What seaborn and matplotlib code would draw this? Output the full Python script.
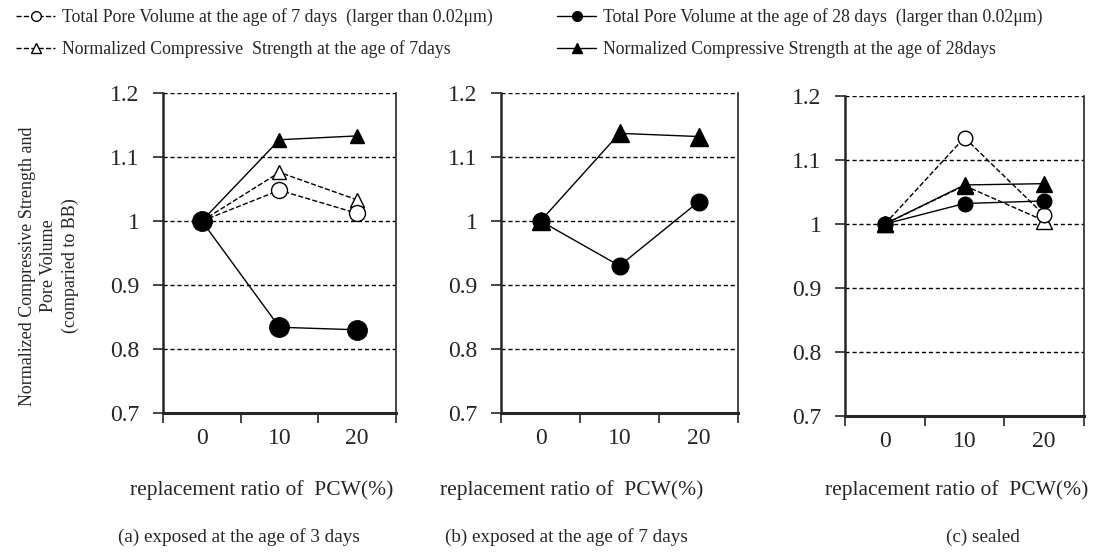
import seaborn as sns
import matplotlib.pyplot as plt
from matplotlib.lines import Line2D

# replacement ratio of PCW (%)
ratio = ["0", "10", "20"]

# (a) exposed at the age of 3 days
a_pore7 = [1.0, 1.048, 1.012]
a_pore28 = [1.0, 0.834, 0.830]
a_str7 = [1.0, 1.076, 1.033]
a_str28 = [1.0, 1.127, 1.133]

# (b) exposed at the age of 7 days
b_pore28 = [1.0, 0.930, 1.030]
b_str28 = [1.0, 1.137, 1.132]

# (c) sealed
c_pore7 = [1.0, 1.135, 1.014]
c_pore28 = [1.0, 1.032, 1.036]
c_str7 = [1.0, 1.060, 1.005]
c_str28 = [1.0, 1.061, 1.063]

yticks = [0.7, 0.8, 0.9, 1.0, 1.1, 1.2]
ytick_labels = ["0.7", "0.8", "0.9", "1", "1.1", "1.2"]

labels = {
    "pore7": "Total Pore Volume at the age of 7 days  (larger than 0.02\u03bcm)",
    "str7": "Normalized Compressive  Strength at the age of 7days",
    "pore28": "Total Pore Volume at the age of 28 days  (larger than 0.02\u03bcm)",
    "str28": "Normalized Compressive Strength at the age of 28days",
}
styles = {
    "pore7": dict(marker="o", ls="--", mfc="white"),
    "str7": dict(marker="^", ls="--", mfc="white"),
    "pore28": dict(marker="o", ls="-", mfc="black"),
    "str28": dict(marker="^", ls="-", mfc="black"),
}

sns.set_style("ticks")
plt.rcParams["font.family"] = ["Liberation Serif", "DejaVu Serif"]

fig = plt.figure(figsize=(11.11, 5.52), dpi=100)
boxes = [
    [0.1467, 0.2518, 0.2097, 0.5797],
    [0.4510, 0.2518, 0.2133, 0.5797],
    [0.7606, 0.2464, 0.2151, 0.5797],
]
panels = [
    {"str7": a_str7, "pore7": a_pore7, "str28": a_str28, "pore28": a_pore28},
    {"pore28": b_pore28, "str28": b_str28},
    {"str7": c_str7, "pore7": c_pore7, "str28": c_str28, "pore28": c_pore28},
]
# marker sizes per panel
msizes = [
    {"pore7": 11.5, "pore28": 14, "str7": 10.5, "str28": 10.5},
    {"pore7": 12, "pore28": 12, "str7": 13.5, "str28": 13.5},
    {"pore7": 10.5, "pore28": 10.5, "str7": 11, "str28": 11},
]
titles = ["(a) exposed at the age of 3 days",
          "(b) exposed at the age of 7 days",
          "(c) sealed"]
title_x = [239, 566, 983]
xlabel_x = [262, 572, 957]

xpos = list(range(len(ratio)))
for i, (box, series, title) in enumerate(zip(boxes, panels, titles)):
    ax = fig.add_axes(box)
    for key, vals in series.items():
        st = styles[key]
        sns.lineplot(x=xpos, y=vals, ax=ax, color="black", lw=1,
                     linestyle=st["ls"], marker=st["marker"],
                     markersize=msizes[i][key], markerfacecolor=st["mfc"],
                     markeredgecolor="black", markeredgewidth=1,
                     zorder=3, clip_on=False)
    ax.set_xlim(-0.5, len(ratio) - 0.5)
    ax.set_ylim(0.7, 1.2)
    ax.set_xticks([-0.5, 0.5, 1.5, 2.5])
    ax.set_xticklabels([])
    ax.set_xticks(xpos, minor=True)
    ax.set_xticklabels(ratio, minor=True)
    ax.tick_params(axis="x", which="minor", length=0, pad=11, labelsize=17)
    ax.tick_params(axis="x", which="major", length=7, width=1.2, direction="out")
    ax.set_yticks(yticks)
    ax.set_yticklabels(ytick_labels)
    ax.tick_params(axis="y", length=7, width=1.2, direction="out", labelsize=17, pad=10)
    for y in yticks[1:]:
        ax.axhline(y, color="black", ls=(0, (3, 2)), lw=1, zorder=1)
    ax.spines["top"].set_visible(False)
    ax.spines["left"].set_linewidth(1.8)
    ax.spines["bottom"].set_linewidth(2.2)
    ax.spines["right"].set_linewidth(1.2)
    ax.set_xlabel("replacement ratio of  PCW(%)", fontsize=15.5)
    ax.xaxis.set_label_coords((xlabel_x[i] / 1111 - box[0]) / box[2],
                              (1 - 490 / 552 - box[1]) / box[3])
    ax.xaxis.label.set_va("center")
    fig.text(title_x[i] / 1111, 1 - 537 / 552, title, ha="center", va="center", fontsize=13.8)
    if i == 0:
        ax.set_ylabel("Normalized Compressive Strength and\nPore Volume\n(comparied to BB)",
                      fontsize=13, linespacing=1.3)
        ax.yaxis.set_label_coords((49 / 1111 - box[0]) / box[2], 0.46)
        ax.yaxis.label.set_va("center")

order = ["pore7", "str7", "pore28", "str28"]
handles = [Line2D([], [], color="black", lw=1, ls=styles[k]["ls"], marker=styles[k]["marker"],
                  markersize=7, markerfacecolor=styles[k]["mfc"], markeredgecolor="black")
           for k in order]
fig.legend(handles, [labels[k] for k in order], ncol=2, loc="upper left",
           bbox_to_anchor=(0.008, 0.998), borderaxespad=0, frameon=False, fontsize=12.8,
           handlelength=2.2, handletextpad=0.4, columnspacing=3.6, labelspacing=0.8)

fig.savefig("out.png", dpi=100)
